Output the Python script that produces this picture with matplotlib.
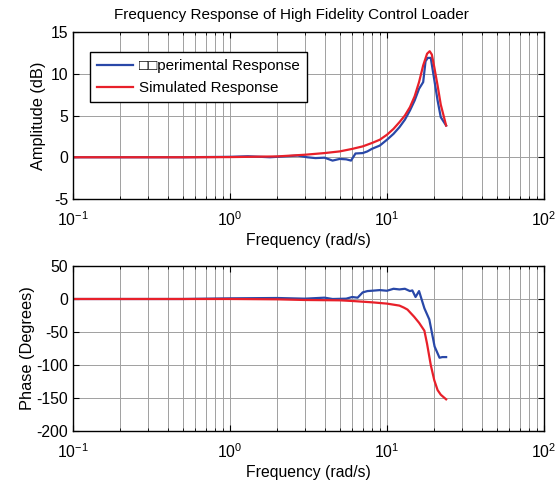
import matplotlib.pyplot as plt
import numpy as np

plt.rcParams['font.family'] = ['Liberation Sans', 'DejaVu Sans']
plt.rcParams['mathtext.fontset'] = 'custom'
plt.rcParams['mathtext.rm'] = 'Liberation Sans'
plt.rcParams['axes.unicode_minus'] = False

# Amplitude (dB) - experimental
freq_exp_amp = [0.1, 0.5, 1.0, 1.3, 1.8, 2.2, 2.7, 3.1, 3.5, 4.0, 4.5, 5.0, 5.5, 5.9,
                6.3, 7.0, 7.5, 8.0, 9.0, 10.0, 11.0, 12.0, 13.0, 14.0, 15.0, 16.0,
                17.0, 17.6, 18.2, 19.0, 20.0, 21.0, 22.0, 23.8]
amp_exp = [0.0, 0.0, 0.05, 0.12, 0.0, 0.1, 0.2, 0.0, -0.1, -0.05, -0.4, -0.2, -0.25, -0.4,
           0.45, 0.5, 0.7, 1.0, 1.4, 2.1, 2.8, 3.6, 4.5, 5.6, 6.8, 8.2,
           9.0, 11.5, 11.9, 11.9, 9.3, 6.8, 4.8, 3.8]

# Amplitude (dB) - simulated
freq_sim_amp = [0.1, 0.5, 1.0, 2.0, 3.0, 4.0, 5.0, 6.0, 7.0, 8.0, 9.0, 10.0, 11.0, 12.0,
                13.0, 14.0, 15.0, 16.0, 17.0, 18.0, 18.7, 19.3, 20.0, 21.0, 22.0, 23.8]
amp_sim = [0.0, 0.0, 0.02, 0.1, 0.3, 0.5, 0.7, 1.0, 1.3, 1.7, 2.1, 2.7, 3.4, 4.2,
           5.0, 6.0, 7.3, 9.0, 11.0, 12.4, 12.7, 12.3, 10.8, 8.6, 6.3, 3.8]

# Phase (deg) - experimental
freq_exp_ph = [0.1, 0.5, 1.0, 2.0, 3.0, 4.0, 4.5, 5.5, 6.0, 6.5, 7.0, 7.5, 8.0, 9.0,
               10.0, 11.0, 12.0, 13.0, 14.0, 14.5, 15.2, 16.0, 17.3, 18.6, 20.1, 21.6,
               22.5, 23.8]
ph_exp = [0.0, 0.0, 1.0, 1.5, 0.5, 2.0, 0.0, 0.5, 3.0, 2.0, 10.0, 12.0, 12.5, 13.5,
          12.5, 15.5, 14.5, 15.5, 12.0, 13.0, 3.0, 12.0, -14.0, -31.0, -72.0, -89.0,
          -88.0, -88.0]

# Phase (deg) - simulated
freq_sim_ph = [0.1, 0.5, 1.0, 2.0, 3.0, 5.0, 6.0, 8.0, 10.0, 12.0, 12.8, 13.5, 14.9,
               16.0, 17.3, 18.0, 19.0, 20.0, 21.0, 22.0, 23.8]
ph_sim = [0.0, 0.0, 0.0, -0.5, -1.5, -2.0, -3.0, -5.0, -7.0, -10.0, -13.0, -16.0, -27.0,
          -36.0, -48.0, -68.0, -100.0, -123.0, -138.0, -145.0, -152.0]

blue = '#2948a8'
red = '#e8202a'

fig = plt.figure(figsize=(5.55, 4.82), dpi=100)
ax1 = fig.add_axes([73 / 555, 1 - 199 / 482, 471 / 555, 167 / 482])
ax2 = fig.add_axes([73 / 555, 1 - 431 / 482, 471 / 555, 165 / 482])

ax1.plot(freq_exp_amp, amp_exp, color=blue, lw=1.6, label='\u25a1\u25a1perimental Response')
ax1.plot(freq_sim_amp, amp_sim, color=red, lw=1.6, label='Simulated Response')
ax2.plot(freq_exp_ph, ph_exp, color=blue, lw=1.6)
ax2.plot(freq_sim_ph, ph_sim, color=red, lw=1.6)

ax1.set_ylim(-5, 15)
ax1.set_yticks([-5, 0, 5, 10, 15])
ax2.set_ylim(-200, 50)
ax2.set_yticks([-200, -150, -100, -50, 0, 50])

for ax in (ax1, ax2):
    ax.set_xscale('log')
    ax.set_xlim(0.1, 100)
    ax.grid(True, which='both', color='#a0a0a0', lw=0.7)
    ax.set_axisbelow(True)
    ax.tick_params(which='both', direction='in', top=True, right=True, labelsize=11.3)
    ax.tick_params(which='major', length=4)
    ax.tick_params(which='minor', length=2)
    ax.tick_params(axis='x', which='major', pad=8)
    for s in ax.spines.values():
        s.set_linewidth(1.0)
    ax.set_xlabel('Frequency (rad/s)', fontsize=11.3, labelpad=3)

ax1.set_ylabel('Amplitude (dB)', fontsize=11.8, labelpad=3)
ax2.set_ylabel('Phase (Degrees)', fontsize=11.8, labelpad=1)
ax1.set_title('Frequency Response of High Fidelity Control Loader', fontsize=11,
              x=0.463, pad=9)

leg = ax1.legend(loc='upper left', bbox_to_anchor=(0.036, 0.88), fontsize=10.9,
                 fancybox=False, framealpha=1, edgecolor='black', handlelength=2.4,
                 handletextpad=0.4, borderpad=0.45, labelspacing=0.55, borderaxespad=0)
leg.get_frame().set_linewidth(1.0)

fig.savefig('out.png', dpi=100)
